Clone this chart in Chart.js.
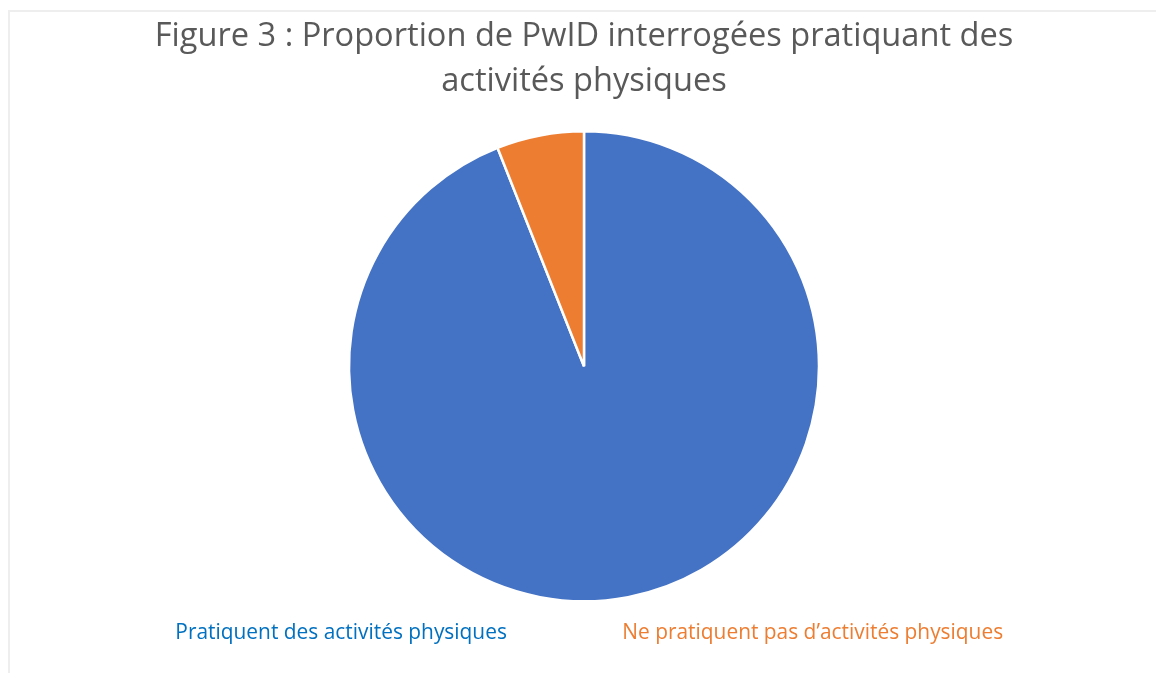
<!DOCTYPE html>
<html>
<head>
<meta charset="utf-8">
<script src="https://cdn.jsdelivr.net/npm/chart.js@4"></script>
<style>
html,body{margin:0;padding:0;background:#fff;}
#wrap{position:relative;width:1156px;height:673px;overflow:hidden;}
#frame{position:absolute;left:8px;top:10px;width:1200px;height:700px;border-top:2px solid #eeeeee;border-left:2px solid #eeeeee;box-sizing:border-box;}
canvas{position:absolute;left:0;top:0;}
</style>
</head>
<body>
<div id="wrap">
<div id="frame"></div>
<canvas id="c" width="1156" height="673"></canvas>
</div>
<script>
const categories = ["Pratiquent des activités physiques", "Ne pratiquent pas d’activités physiques"];
const values = [94, 6];
const sliceColors = ["#4472C4", "#ED7D31"];
const labelColors = ["#0070C0", "#ED7D31"];
const titleLines = ["Figure 3 : Proportion de PwID interrogées pratiquant des", "activités physiques"];

new Chart(document.getElementById('c'), {
  type: 'pie',
  data: {
    labels: categories,
    datasets: [{
      data: values,
      backgroundColor: sliceColors,
      borderColor: '#ffffff',
      borderWidth: 2.5,
      radius: 235
    }]
  },
  options: {
    responsive: false,
    animation: false,
    layout: { padding: { left: 12, right: 0, top: 0, bottom: 20 } },
    plugins: {
      title: {
        display: true,
        text: titleLines,
        color: '#595959',
        font: { family: 'Open Sans', size: 32.6, weight: 'normal', lineHeight: 1.38 },
        padding: { top: 14.5, bottom: 111 }
      },
      legend: {
        position: 'bottom',
        labels: {
          boxWidth: 0,
          boxHeight: 0,
          padding: 105,
          font: { family: 'Open Sans', size: 20.9 },
          generateLabels: (chart) => categories.map((t, i) => ({
            text: t,
            fontColor: labelColors[i],
            fillStyle: 'rgba(0,0,0,0)',
            strokeStyle: 'rgba(0,0,0,0)',
            lineWidth: 0,
            hidden: false,
            index: i
          }))
        }
      },
      tooltip: { enabled: false }
    }
  }
});
</script>
</body>
</html>
